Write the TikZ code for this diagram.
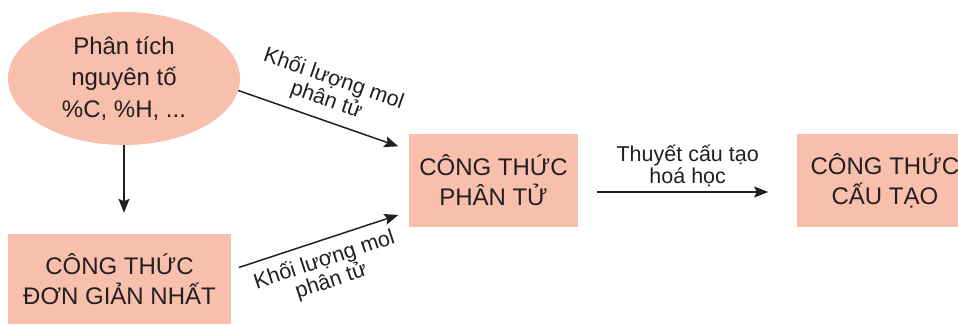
\documentclass[tikz,border=0pt]{standalone}
\usepackage{fontspec}
\setmainfont{Liberation Sans}
\usepackage{tikz}
\usetikzlibrary{shapes.geometric, arrows.meta, positioning}

\definecolor{salmon}{RGB}{248,191,172}
\definecolor{ink}{RGB}{35,31,32}

\begin{document}
\begin{tikzpicture}[
  x=1pt, y=-1pt,
  >={Stealth[length=14pt, width=11pt, inset=2.5pt]},
  every node/.style={text=ink},
  boxtxt/.style={font=\fontsize{24}{30}\selectfont},
  lbltxt/.style={font=\fontsize{21.5}{22}\selectfont, align=center, inner sep=0pt},
  ana/.style={ellipse, fill=salmon, minimum width=232pt, minimum height=133pt, inner sep=0pt, align=center, boxtxt, font=\fontsize{24}{31.5}\selectfont},
  fbox/.style={rectangle, fill=salmon, inner sep=0pt, align=center, boxtxt},
  a/.style={->, line width=1.5pt, ink},
  node distance=219pt,
]
\useasboundingbox (0,0) rectangle (958,324);
\node[ana] (ell) at (124,78.5) {Phân tích\\nguyên tố\\\%C, \%H, ...};
\node[fbox, minimum width=223pt, minimum height=90pt] (sim) at (119.5,279) {CÔNG THỨC\\ĐƠN GIẢN NHẤT};
\node[fbox, minimum width=169pt, minimum height=93pt] (mid) at (493.5,180.5) {CÔNG THỨC\\PHÂN TỬ};
\node[fbox, minimum width=175pt, minimum height=93pt, right=of mid] (ctct) {CÔNG THỨC\\CẤU TẠO};
% arrows
\draw[a, shorten >=21pt] (ell.south) -- (ell.south|-sim.north);
\draw[a, shorten >=11pt] (ell.-6.7) -- ([yshift=30.5pt]mid.west)
  node[lbltxt, midway, sloped, yshift=31pt, xshift=-4pt] {Khối lượng mol\\phân tử};
\draw[a, shorten <=8pt, shorten >=11pt] ([yshift=9pt]sim.east) -- ([yshift=-31pt]mid.west)
  node[lbltxt, midway, sloped, yshift=-31pt, xshift=-2pt] {Khối lượng mol\\phân tử};
\draw[a, shorten <=19pt, shorten >=29pt] ([yshift=-11.5pt]mid.east) -- ([yshift=-11.5pt]ctct.west)
  node[lbltxt, midway, above=4pt] {Thuyết cấu tạo\\hoá học};
\end{tikzpicture}
\end{document}
